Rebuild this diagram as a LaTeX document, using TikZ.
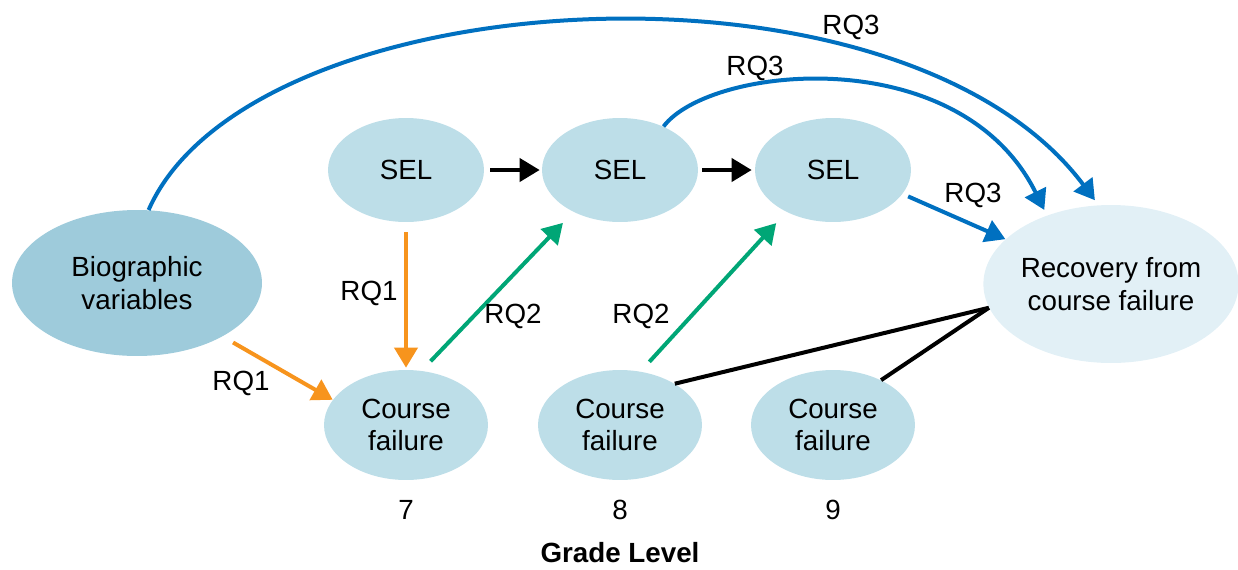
\documentclass[tikz,border=0pt]{standalone}
\usepackage{fontspec}
\setmainfont{Liberation Sans}
\usetikzlibrary{shapes.geometric,arrows.meta}
\definecolor{bioC}{HTML}{9ECBDB}
\definecolor{selC}{HTML}{BDDEE8}
\definecolor{recC}{HTML}{E2F0F6}
\definecolor{blueC}{HTML}{0070C0}
\definecolor{oraC}{HTML}{F7941D}
\definecolor{grnC}{HTML}{00A676}
\begin{document}
\begin{tikzpicture}[x=0.02cm,y=-0.02cm,
  font=\fontsize{15.8}{18.5}\selectfont,
  ell/.style={ellipse, inner sep=0pt, align=center},
  selnode/.style={ell, fill=selC, minimum width=3.12cm, minimum height=2.08cm},
  cfnode/.style={ell, fill=selC, minimum width=3.28cm, minimum height=2.2cm},
  arr/.style={line width=0.08cm, -{Triangle[length=0.4cm,width=0.46cm]}},
  plain/.style={line width=0.08cm},
  lbl/.style={inner sep=0pt}]
\useasboundingbox (0,0) rectangle (1238,569);

\node[ell, fill=bioC, minimum width=5cm, minimum height=2.92cm] (bio) at (137,283) {Biographic\\variables};
\node[selnode] (s1) at (406,170) {SEL};
\node[selnode] (s2) at (620,170) {SEL};
\node[selnode] (s3) at (833,170) {SEL};
\node[cfnode] (c7) at (406,425) {Course\\failure};
\node[cfnode] (c8) at (620,425) {Course\\failure};
\node[cfnode] (c9) at (833,425) {Course\\failure};
\node[ell, fill=recC, minimum width=5.08cm, minimum height=3.16cm] (rec) at (1111,284) {Recovery from\\course failure};

\node[lbl] (g7) at (406,510) {7};
\node[lbl] (g8) at (620,510) {8};
\node[lbl] (g9) at (833,510) {9};
\node[lbl] (gl) at (620,553) {\bfseries Grade Level};

% black arrows
\draw[arr, shorten <=0.12cm, shorten >=0.04cm] (s1.east) -- (s2.west);
\draw[arr, shorten <=0.08cm, shorten >=0.06cm] (s2.east) -- (s3.west);

% orange
\draw[arr, oraC, shorten <=0.2cm, shorten >=0.04cm] (s1.south) -- (c7.north);
\draw[arr, oraC, shorten <=0.24cm] (bio.-32) -- (c7.161);

% green
\draw[arr, grnC, shorten <=0.26cm, shorten >=0.3cm] (c7.74) -- (s2.222);
\draw[arr, grnC, shorten <=0.26cm, shorten >=0.3cm] (c8.69) -- (s3.222);

% blue
\draw[arr, blueC, shorten <=0.12cm] (s3.-19) -- (rec.157);
\draw[arr, blueC, shorten >=0.12cm] (s2.45) .. controls (710,65) and (960,40) .. (rec.133);
\draw[arr, blueC, shorten >=0.12cm] (bio.81) .. controls (250,-20) and (900,-60) .. (rec.99);

% black lines
\draw[plain] (c8.37.5) -- (rec.191);
\draw[plain] (c9.43) -- (rec.191);

% labels
\node[lbl] (q3a) at (851,27) {RQ3};
\node[lbl] (q3b) at (755,68) {RQ3};
\node[lbl] (q3c) at (973,195) {RQ3};
\node[lbl] (q1a) at (369,293) {RQ1};
\node[lbl] (q1b) at (241,383) {RQ1};
\node[lbl] (q2a) at (513,316) {RQ2};
\node[lbl] (q2b) at (641,316) {RQ2};
\end{tikzpicture}
\end{document}
